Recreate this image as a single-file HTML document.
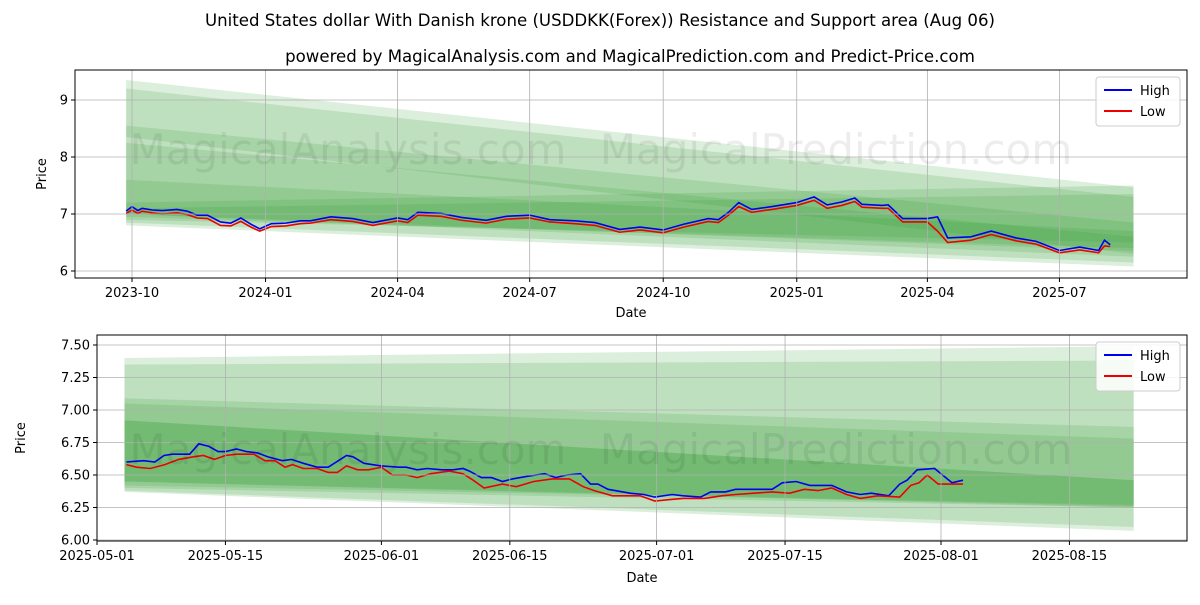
<!DOCTYPE html>
<html><head><meta charset="utf-8"><style>
body{margin:0;background:#fff;}
svg{font-family:"DejaVu Sans","Liberation Sans",sans-serif;}
</style></head><body>
<svg id="c" width="1200" height="600" xmlns="http://www.w3.org/2000/svg">
<text x="600" y="26" text-anchor="middle" font-size="16.6">United States dollar With Danish krone (USDDKK(Forex)) Resistance and Support area (Aug 06)</text>
<text x="630" y="62" text-anchor="middle" font-size="16.6">powered by MagicalAnalysis.com and MagicalPrediction.com and Predict-Price.com</text>
</svg>
<script>
// ---------- data: top chart ----------
const topDates=["2023-09-27","2023-10-01","2023-10-05","2023-10-08","2023-10-15","2023-10-22","2023-11-01","2023-11-08","2023-11-15","2023-11-22","2023-12-01","2023-12-08","2023-12-15","2023-12-22","2023-12-28","2024-01-05","2024-01-15","2024-01-25","2024-02-01","2024-02-15","2024-03-01","2024-03-15","2024-04-01","2024-04-08","2024-04-15","2024-05-01","2024-05-15","2024-06-01","2024-06-15","2024-07-01","2024-07-15","2024-08-01","2024-08-15","2024-09-01","2024-09-15","2024-10-01","2024-10-15","2024-11-01","2024-11-08","2024-11-15","2024-11-22","2024-12-01","2024-12-15","2025-01-01","2025-01-13","2025-01-22","2025-02-01","2025-02-10","2025-02-15","2025-03-01","2025-03-05","2025-03-15","2025-04-01","2025-04-08","2025-04-15","2025-05-01","2025-05-15","2025-06-01","2025-06-15","2025-07-01","2025-07-15","2025-07-28","2025-08-01","2025-08-05"];
const topHigh=[7.05,7.13,7.06,7.10,7.07,7.06,7.08,7.05,6.98,6.98,6.86,6.84,6.93,6.82,6.74,6.83,6.84,6.88,6.88,6.95,6.92,6.85,6.93,6.90,7.03,7.01,6.94,6.89,6.96,6.98,6.90,6.88,6.85,6.73,6.77,6.72,6.82,6.92,6.90,7.03,7.20,7.08,7.13,7.20,7.30,7.16,7.21,7.28,7.17,7.15,7.16,6.92,6.92,6.95,6.58,6.60,6.70,6.58,6.52,6.36,6.42,6.36,6.54,6.46];
const topLow=[7.01,7.07,7.01,7.05,7.02,7.00,7.02,6.99,6.93,6.92,6.80,6.79,6.87,6.77,6.70,6.78,6.79,6.83,6.84,6.90,6.87,6.80,6.88,6.85,6.98,6.96,6.89,6.84,6.91,6.93,6.86,6.83,6.80,6.68,6.72,6.67,6.77,6.87,6.85,6.98,7.13,7.03,7.08,7.15,7.24,7.10,7.15,7.22,7.12,7.10,7.10,6.86,6.86,6.70,6.50,6.54,6.64,6.53,6.47,6.32,6.37,6.32,6.44,6.43];
const topBandStart=["2023-09-27"], topBandEnd=["2025-08-21"];
const topBands=[[9.35,7.47,6.80,6.08],[9.20,7.30,6.85,6.15],[8.55,6.85,8.35,6.30],[8.25,6.60,7.00,6.35],[7.20,7.50,6.90,6.50],[7.10,7.35,6.95,6.40],[7.60,6.70,7.00,6.25]];
// ---------- data: bottom chart ----------
const botHighDays=[3.2,5.1,6.3,7.3,8.2,10.1,11.1,12.2,13.2,14,15.2,16.3,17.5,18.6,20.2,21.2,22.5,24,25.2,27.2,27.9,29.1,31,32.9,33.7,34.9,36,37.6,38.8,39.9,40.6,41.9,43,44.2,45.3,46.9,48.8,50,51.2,52.7,53.8,54.6,55.7,58.1,59.6,60.8,62.7,63.9,65.8,66.9,68.5,69.6,71.6,73.6,74.7,76.2,77.7,80.1,81.7,83.2,84.4,86.3,87.5,88.3,89.4,91.3,93.2,94.4];
const botHigh=[6.60,6.61,6.60,6.65,6.66,6.66,6.74,6.72,6.68,6.68,6.70,6.68,6.67,6.64,6.61,6.62,6.59,6.56,6.56,6.65,6.64,6.59,6.57,6.56,6.56,6.54,6.55,6.54,6.54,6.55,6.53,6.48,6.48,6.45,6.47,6.49,6.51,6.48,6.50,6.51,6.43,6.43,6.39,6.36,6.35,6.33,6.35,6.34,6.33,6.37,6.37,6.39,6.39,6.39,6.44,6.45,6.42,6.42,6.37,6.35,6.36,6.34,6.43,6.46,6.54,6.55,6.44,6.46];
const botLowDays=[3.2,4.3,5.8,7.4,8.9,10.5,11.6,12.8,14,15.2,17.1,18.3,19.4,20.5,21.3,22.5,24,25.2,26.2,27.2,28.4,29.6,31,32.2,33.7,34.9,36.4,38.4,39.9,41,42.2,44.2,45.7,47.6,49.6,51.5,53,54.2,56.2,58.1,59.2,60.8,62.3,63.9,66.2,68.1,69.6,71.6,73.6,75.5,77.1,78.6,80.1,81.7,83.2,85.1,87.5,88.7,89.6,90.5,91.7,94.4];
const botLow=[6.58,6.56,6.55,6.58,6.62,6.64,6.65,6.62,6.65,6.66,6.66,6.61,6.61,6.56,6.58,6.55,6.55,6.52,6.52,6.57,6.54,6.54,6.56,6.50,6.50,6.48,6.51,6.53,6.51,6.46,6.40,6.43,6.41,6.45,6.47,6.47,6.41,6.38,6.34,6.34,6.34,6.30,6.31,6.32,6.32,6.34,6.35,6.36,6.37,6.36,6.39,6.38,6.40,6.35,6.32,6.34,6.33,6.42,6.44,6.50,6.43,6.43];
const botBandStartDay=[3], botBandEndDay=[113];
const botBands=[[7.40,7.49,6.37,6.07],[7.35,7.38,6.38,6.10],[7.09,6.87,6.40,6.25],[7.05,6.78,6.42,6.27],[6.92,6.46,6.45,6.25],[6.92,6.46,6.45,6.26]];
const topYTicks=[6,7,8,9];
const topXTicks=["2023-10-01","2024-01-01","2024-04-01","2024-07-01","2024-10-01","2025-01-01","2025-04-01","2025-07-01"];
const topXLabels=["2023-10","2024-01","2024-04","2024-07","2024-10","2025-01","2025-04","2025-07"];
const botYTicks=[6.00,6.25,6.50,6.75,7.00,7.25,7.50];
const botXTickDays=[0,14,31,45,61,75,92,106];
const botXLabels=["2025-05-01","2025-05-15","2025-06-01","2025-06-15","2025-07-01","2025-07-15","2025-08-01","2025-08-15"];

const NS="http://www.w3.org/2000/svg";
const svg=document.getElementById('c');
function mk(t,a,p){const e=document.createElementNS(NS,t);for(const k in a)e.setAttribute(k,a[k]);(p||svg).appendChild(e);return e;}
const dayMs=86400000;
const t0=Date.parse("2023-10-01");
const T={x0:75,x1:1187,y0:70,y1:278};
const txf=d=>132+(Date.parse(d)-t0)/dayMs*(926/638);
const tyf=v=>214-(v-7)*57;
const B={x0:97,x1:1187,y0:335,y1:541};
const bxf=d=>97+d*(844/92);
const byf=v=>345+(7.5-v)*130;

function panel(A,xf,yf,bands,bs,be,ticksY,fmtY,ticksX,labX,hD,hV,lD,lV,nm,yLabX,dateY,wmY){
  const g=mk('g',{});
  
  
  const cl='clip'+nm;
  const cp=mk('clipPath',{id:cl},g);mk('rect',{x:A.x0,y:A.y0,width:A.x1-A.x0,height:A.y1-A.y0},cp);
  const bg=mk('g',{'clip-path':`url(#${cl})`},g);
  bands.forEach((b,i)=>{
    const x0=xf(bs[0]),x1=xf(be[0]);
    const p=mk('polygon',{points:`${x0},${yf(b[0])} ${x1},${yf(b[1])} ${x1},${yf(b[3])} ${x0},${yf(b[2])}`,fill:'#2e9a2e','fill-opacity':0.17},bg);
    
    
  });
  ticksX.forEach((t,i)=>{const x=xf(t);
    mk('line',{x1:x,x2:x,y1:A.y0,y2:A.y1,stroke:'#b0b0b0','stroke-width':0.8},g);
    mk('line',{x1:x,x2:x,y1:A.y1,y2:A.y1+4,stroke:'#000'},g);
    const tx=mk('text',{x:x,y:A.y1+19,'text-anchor':'middle','font-size':13},g);tx.textContent=labX[i];
    
    
  });
  ticksY.forEach(v=>{const y=yf(v);
    mk('line',{x1:A.x0,x2:A.x1,y1:y,y2:y,stroke:'#b0b0b0','stroke-width':0.8},g);
    mk('line',{x1:A.x0-4,x2:A.x0,y1:y,y2:y,stroke:'#000'},g);
    const tx=mk('text',{x:A.x0-7,y:y+4.5,'text-anchor':'end','font-size':13},g);tx.textContent=fmtY(v);
    
    
  });
  [["MagicalAnalysis.com",348],["MagicalPrediction.com",836]].forEach(w=>{const t=mk('text',{x:w[1],y:wmY,'text-anchor':'middle','font-size':42,fill:'#000','fill-opacity':0.07},g);t.textContent=w[0];
    
    });
  const hp=mk('polyline',{points:hD.map((d,i)=>xf(d)+','+yf(hV[i])).join(' '),fill:'none',stroke:'#0000ee','stroke-width':1.6},bg);
  
  
  const lp=mk('polyline',{points:lD.map((d,i)=>xf(d)+','+yf(lV[i])).join(' '),fill:'none',stroke:'#ee0000','stroke-width':1.6},bg);
  
  
  mk('rect',{x:A.x0,y:A.y0,width:A.x1-A.x0,height:A.y1-A.y0,fill:'none',stroke:'#000','stroke-width':1},g);
  const yl=mk('text',{x:yLabX,y:(A.y0+A.y1)/2,'text-anchor':'middle','font-size':13,transform:`rotate(-90 ${yLabX} ${(A.y0+A.y1)/2})`},g);yl.textContent='Price';
  
  
  const xl=mk('text',{x:(A.x0+A.x1)/2,y:dateY,'text-anchor':'middle','font-size':13},g);xl.textContent='Date';
  
  
  const lg=mk('g',{},g);
  
  
  const lx=A.x1-91,ly=A.y0+7;
  mk('rect',{x:lx,y:ly,width:84,height:49,rx:3,fill:'#fff','fill-opacity':0.85,stroke:'#ccc'},lg);
  [["High",'#0000ee'],["Low",'#ee0000']].forEach((e,i)=>{const y=ly+13+i*21;
    mk('line',{x1:lx+8,x2:lx+36,y1:y,y2:y,stroke:e[1],'stroke-width':2},lg);
    const t=mk('text',{x:lx+44,y:y+5,'font-size':13},lg);t.textContent=e[0];
    
    });
}
panel(T,txf,tyf,topBands,topBandStart,topBandEnd,topYTicks,v=>String(v),topXTicks,topXLabels,topDates,topHigh,topDates,topLow,'top-panel',46,317,164);
panel(B,bxf,byf,botBands,botBandStartDay,botBandEndDay,botYTicks,v=>v.toFixed(2),botXTickDays,botXLabels,botHighDays,botHigh,botLowDays,botLow,'bottom-panel',25,582,464);
</script>
</body></html>
